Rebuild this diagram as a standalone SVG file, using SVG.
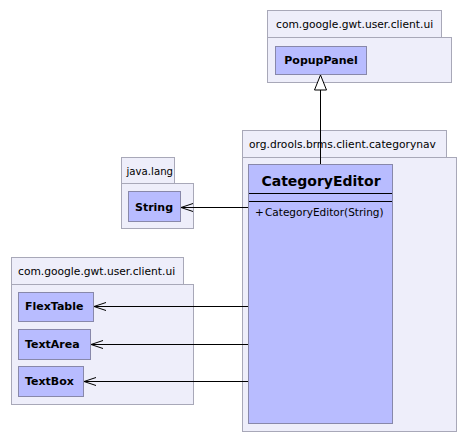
<svg xmlns="http://www.w3.org/2000/svg" width="467" height="442" viewBox="0 0 467 442">
<defs>
<style>
.pkg{fill:#EEEEFA;stroke:#A8A8B8;stroke-width:1}
.cls{fill:#B8BCFF;stroke:#8888AA;stroke-width:1}
.plbl{font-family:"DejaVu Sans",sans-serif;font-size:10.7px;fill:#000}
.clbl{font-family:"DejaVu Sans",sans-serif;font-size:11px;font-weight:bold;fill:#000}
.edge{stroke:#000;stroke-width:1;fill:none}
</style>
<marker id="open" markerWidth="14" markerHeight="10" refX="13" refY="5" orient="auto" markerUnits="userSpaceOnUse">
<path d="M1,1 L13,5 L1,9" fill="none" stroke="#000" stroke-width="1"/>
</marker>
</defs>
<rect width="467" height="442" fill="#fff"/>
<g id="pkg-gwt-top">
<rect class="pkg" x="267.5" y="10.5" width="174" height="27"/>
<rect class="pkg" x="267.5" y="37.5" width="184" height="45"/>
<text class="plbl" x="276" y="28">com.google.gwt.user.client.ui</text>
</g>
<g id="pkg-drools">
<rect class="pkg" x="242.5" y="130.5" width="204" height="27"/>
<rect class="pkg" x="242.5" y="157.5" width="214" height="274"/>
<text class="plbl" x="249" y="148">org.drools.brms.client.categorynav</text>
</g>
<g id="pkg-java-lang">
<rect class="pkg" x="121.5" y="157.5" width="53" height="26"/>
<rect class="pkg" x="121.5" y="183.5" width="72" height="45"/>
<text class="plbl" x="126.5" y="175" style="font-size:10.2px">java.lang</text>
</g>
<g id="pkg-gwt-bottom">
<rect class="pkg" x="11.5" y="257.5" width="172" height="27"/>
<rect class="pkg" x="11.5" y="284.5" width="182" height="120"/>
<text class="plbl" x="18" y="275">com.google.gwt.user.client.ui</text>
</g>
<g id="PopupPanel">
<rect class="cls" x="275.5" y="46.5" width="91" height="28"/>
<text class="clbl" x="321" y="64" text-anchor="middle">PopupPanel</text>
</g>
<g id="CategoryEditor">
<rect class="cls" x="248.5" y="164.5" width="144" height="259"/>
<text x="321" y="186" text-anchor="middle" style="font-family:'DejaVu Sans',sans-serif;font-size:14px;font-weight:bold">CategoryEditor</text>
<line x1="249" y1="193.5" x2="392" y2="193.5" stroke="#000"/>
<line x1="249" y1="201.5" x2="392" y2="201.5" stroke="#000"/>
<text class="plbl" x="255" y="216" style="font-size:10.5px">+<tspan x="265">CategoryEditor(String)</tspan></text>
</g>
<g id="String">
<rect class="cls" x="128.5" y="191.5" width="52" height="30"/>
<text class="clbl" x="154" y="211" text-anchor="middle">String</text>
</g>
<g id="FlexTable">
<rect class="cls" x="18.5" y="292.5" width="75" height="29"/>
<text class="clbl" x="25" y="310">FlexTable</text>
</g>
<g id="TextArea">
<rect class="cls" x="18.5" y="329.5" width="72" height="30"/>
<text class="clbl" x="25" y="348">TextArea</text>
</g>
<g id="TextBox">
<rect class="cls" x="18.5" y="366.5" width="65" height="30"/>
<text class="clbl" x="25" y="385">TextBox</text>
</g>
<g id="connectors">
<line class="edge" x1="320.5" y1="164" x2="320.5" y2="90"/>
<path d="M320.5,75 L314.5,90 L326.5,90 Z" fill="#fff" stroke="#000" stroke-width="1"/>
<line class="edge" x1="248" y1="207.5" x2="181" y2="207.5" marker-end="url(#open)"/>
<line class="edge" x1="248" y1="306.5" x2="94" y2="306.5" marker-end="url(#open)"/>
<line class="edge" x1="248" y1="344.5" x2="91" y2="344.5" marker-end="url(#open)"/>
<line class="edge" x1="248" y1="381.5" x2="84" y2="381.5" marker-end="url(#open)"/>
</g>
</svg>
